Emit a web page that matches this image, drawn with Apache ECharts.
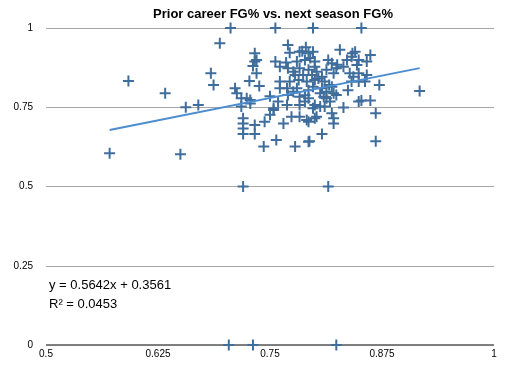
<!DOCTYPE html>
<html><head><meta charset="utf-8">
<script src="https://cdn.jsdelivr.net/npm/echarts@6/dist/echarts.min.js"></script>
<style>html,body{margin:0;padding:0;background:#fff}#c{width:508px;height:373px}</style>
</head><body><div id="c"></div>
<script>
const titleText = "Prior career FG% vs. next season FG%";
const xTicks = [0.5, 0.625, 0.75, 0.875, 1];
const yTicks = [0, 0.25, 0.5, 0.75, 1];
const slope = 0.5642, intercept = 0.3561, r2 = 0.0453;
const trendX = [0.571, 0.917];
const points = [
[0.571,0.605],[0.592,0.833],[0.633,0.794],[0.650,0.602],[0.656,0.750],[0.670,0.757],[0.684,0.857],[0.687,0.820],
[0.694,0.952],[0.706,1.0],[0.711,0.810],[0.713,0.794],[0.718,0.752],[0.720,0.715],[0.720,0.699],[0.720,0.683],
[0.720,0.666],[0.733,0.666],[0.720,0.5],[0.724,0.778],[0.728,0.773],[0.727,0.833],[0.733,0.920],[0.733,0.894],
[0.731,0.880],[0.735,0.857],[0.738,0.817],[0.756,1.0],[0.798,1.0],[0.852,1.0],[0.815,0.5],
[0.917,0.801],[0.868,0.731],[0.868,0.643],[0.852,0.771],[0.862,0.771],[0.872,0.820],[0.808,0.666],[0.794,0.643],
[0.832,0.749],[0.837,0.804],[0.821,0.699],[0.704,0],[0.731,0],[0.824,0],
[0.770,0.946],[0.790,0.939],[0.798,0.925],[0.828,0.931],[0.842,0.920],[0.845,0.925],[0.772,0.922],[0.783,0.925],
[0.793,0.920],[0.735,0.899],[0.756,0.894],[0.768,0.891],[0.780,0.894],[0.789,0.899],[0.800,0.894],[0.815,0.899],
[0.819,0.889],[0.836,0.899],[0.841,0.909],[0.761,0.878],[0.770,0.873],[0.783,0.873],[0.793,0.868],[0.802,0.862],
[0.813,0.868],[0.824,0.873],[0.832,0.878],[0.847,0.883],[0.778,0.852],[0.787,0.852],[0.797,0.852],[0.808,0.846],
[0.821,0.857],[0.849,0.857],[0.761,0.831],[0.772,0.831],[0.782,0.836],[0.791,0.831],[0.800,0.836],[0.811,0.831],
[0.849,0.831],[0.769,0.810],[0.780,0.810],[0.793,0.804],[0.808,0.810],[0.819,0.815],[0.750,0.785],[0.718,0.778],
[0.728,0.762],[0.770,0.789],[0.783,0.783],[0.793,0.778],[0.813,0.778],[0.824,0.789],[0.759,0.768],[0.769,0.757],
[0.783,0.757],[0.800,0.757],[0.811,0.752],[0.849,0.768],[0.754,0.747],[0.750,0.726],[0.774,0.720],[0.783,0.720],
[0.802,0.720],[0.819,0.731],[0.744,0.704],[0.765,0.699],[0.793,0.704],[0.800,0.715],[0.821,0.715],[0.733,0.694],
[0.757,0.647],[0.743,0.626],[0.778,0.626],[0.793,0.641],
[0.862,0.915],[0.858,0.894],[0.849,0.899],[0.839,0.857],[0.843,0.846],[0.858,0.852],[0.856,0.831],[0.841,0.831],
[0.821,0.794],[0.813,0.799],[0.810,0.783],[0.806,0.752],[0.798,0.747],[0.791,0.710],[0.754,0.741],
[0.786,0.927],[0.795,0.905],[0.825,0.884],[0.800,0.878],[0.776,0.862],[0.804,0.841],[0.816,0.820],[0.798,0.815],
[0.776,0.799],[0.806,0.794],[0.789,0.788],[0.817,0.768],[0.789,0.768],[0.761,0.810]
];
const chart = echarts.init(document.getElementById('c'), null, {renderer:'canvas'});
const font = "'Liberation Sans', Arial, Helvetica, sans-serif";
const plus = 'path://M4.5,0H6.5V4.5H11V6.5H6.5V11H4.5V6.5H0V4.5H4.5Z';
chart.setOption({
  animation:false,
  backgroundColor:'#fff',
  title:{text:titleText,left:268,textAlign:'center',top:3,
    textStyle:{fontFamily:font,fontSize:13,fontWeight:'bold',color:'#000'}},
  grid:{left:46,right:14,top:28,bottom:28,containLabel:false},
  xAxis:{type:'value',min:xTicks[0],max:xTicks[xTicks.length-1],interval:0.125,
    axisLine:{show:false},axisTick:{show:false},splitLine:{show:false},
    axisLabel:{fontFamily:font,fontSize:10,color:'#000',margin:4,
      formatter:v=>String(+v.toFixed(3))}},
  yAxis:{type:'value',min:yTicks[0],max:yTicks[yTicks.length-1],interval:0.25,
    axisLine:{show:false},axisTick:{show:false},
    splitLine:{show:true,lineStyle:{color:'#a6a6a6',width:1}},
    axisLabel:{fontFamily:font,fontSize:10,color:'#000',margin:13,
      formatter:v=>String(+v.toFixed(3))}},
  series:[
    {type:'line',data:[[0.5,0],[1,0]],symbol:'none',silent:true,z:1,
      lineStyle:{color:'#000',width:1}},
    {type:'scatter',data:points,symbol:plus,symbolSize:11,z:3,
      itemStyle:{color:'#3f6d9c',opacity:1}},
    {type:'line',data:trendX.map(x=>[x,slope*x+intercept]),symbol:'none',z:4,
      lineStyle:{color:'#4c8cd0',width:2}}
  ],
  graphic:[
    {type:'text',left:49,top:279,style:{text:'y = '+slope.toFixed(4)+'x + '+intercept.toFixed(4),font:'13px '+font,fill:'#000'}},
    {type:'text',left:49,top:298,style:{text:'R² = '+r2.toFixed(4),font:'13px '+font,fill:'#000'}}
  ]
});
</script></body></html>
